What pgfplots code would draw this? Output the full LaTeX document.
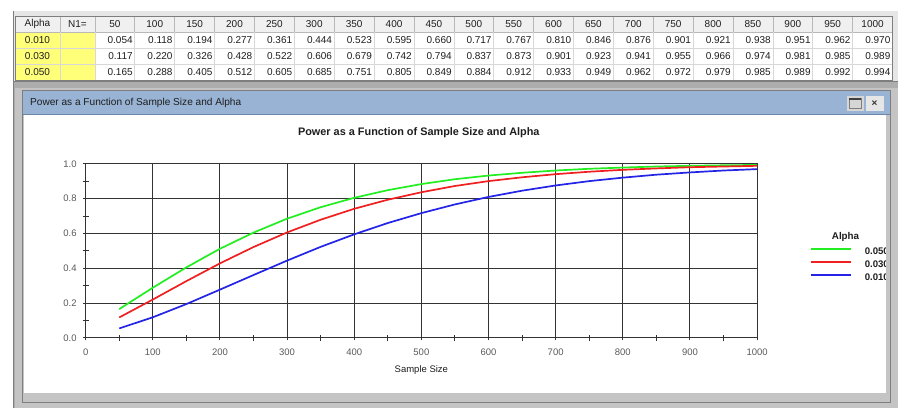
\documentclass[border=0pt]{standalone}
\usepackage{fontspec}
\setmainfont{Liberation Sans}
\usepackage{pgfplots}
\pgfplotsset{compat=1.18}
\usepackage{pgfplotstable}

\definecolor{panelgray}{HTML}{ADADAD}
\definecolor{lightpanel}{HTML}{E6E6E6}
\definecolor{framegray}{HTML}{C4C4C4}
\definecolor{darkline}{HTML}{7E7E7E}
\definecolor{headbg}{HTML}{F0F0F0}
\definecolor{cellline}{HTML}{D8D8D8}
\definecolor{headline}{HTML}{B8B8B8}
\definecolor{yellowcell}{HTML}{FFFF7A}
\definecolor{titlebar}{HTML}{98B3D3}
\definecolor{titleline}{HTML}{6A86A8}
\definecolor{txt}{HTML}{1E1E1E}
\definecolor{ticktxt}{HTML}{5A5A5A}
\definecolor{gridc}{HTML}{333333}
\definecolor{cgreen}{HTML}{22EE22}
\definecolor{cred}{HTML}{F02020}
\definecolor{cblue}{HTML}{2424E6}

\pgfplotstableread{
n a010 a030 a050
50 0.054 0.117 0.165
100 0.118 0.220 0.288
150 0.194 0.326 0.405
200 0.277 0.428 0.512
250 0.361 0.522 0.605
300 0.444 0.606 0.685
350 0.523 0.679 0.751
400 0.595 0.742 0.805
450 0.660 0.794 0.849
500 0.717 0.837 0.884
550 0.767 0.873 0.912
600 0.810 0.901 0.933
650 0.846 0.923 0.949
700 0.876 0.941 0.962
750 0.901 0.955 0.972
800 0.921 0.966 0.979
850 0.938 0.974 0.985
900 0.951 0.981 0.989
950 0.962 0.985 0.992
1000 0.970 0.989 0.994
}\datatab

\begin{document}
\begin{tikzpicture}[x=1pt,y=1pt]
% ---------- background ----------
\fill[white] (0,0) rectangle (898,408);
\fill[panelgray] (13,0) rectangle (898,397);
\fill[lightpanel] (13,326) rectangle (898,397);
\draw[darkline,line width=1pt] (13.5,0) -- (13.5,397);
% ---------- table ----------
\fill[headbg] (15,376) rectangle (893,392);
\fill[white] (95,328) rectangle (893,376);
\fill[yellowcell] (15,328) rectangle (95,376);
\foreach \yy in {360,344} {\draw[cellline,line width=0.7pt] (15,\yy) -- (893,\yy);}
\draw[headline,line width=0.8pt] (15,376) -- (893,376);
\draw[cellline,line width=0.7pt] (60,328) -- (60,376);
\draw[headline,line width=0.7pt] (60,376) -- (60,392);
\foreach \k in {0,...,19} {
  \pgfmathsetmacro{\xx}{95+\k*39.9}
  \draw[cellline,line width=0.7pt] (\xx,328) -- (\xx,376);
  \draw[headline,line width=0.7pt] (\xx,376) -- (\xx,392);
}
\draw[darkline,line width=0.8pt] (15,328) rectangle (893,392);
\begin{scope}[font=\fontsize{10}{12}\selectfont, text=txt]
\node at (37.5,384) {Alpha};
\node at (77.5,384) {N1=};
\foreach \h [count=\i] in {50,100,150,200,250,300,350,400,450,500,550,600,650,700,750,800,850,900,950,1000}
  {\node at ({95+(\i-0.5)*39.9},384) {\h};}
\node at (37.5,368) {0.010};
\node at (37.5,352) {0.030};
\node at (37.5,336) {0.050};
\foreach \v [count=\i] in {0.054,0.118,0.194,0.277,0.361,0.444,0.523,0.595,0.660,0.717,0.767,0.810,0.846,0.876,0.901,0.921,0.938,0.951,0.962,0.970}
  {\node[anchor=east,inner sep=0pt] at ({95+\i*39.9-2},368) {\v};}
\foreach \v [count=\i] in {0.117,0.220,0.326,0.428,0.522,0.606,0.679,0.742,0.794,0.837,0.873,0.901,0.923,0.941,0.955,0.966,0.974,0.981,0.985,0.989}
  {\node[anchor=east,inner sep=0pt] at ({95+\i*39.9-2},352) {\v};}
\foreach \v [count=\i] in {0.165,0.288,0.405,0.512,0.605,0.685,0.751,0.805,0.849,0.884,0.912,0.933,0.949,0.962,0.972,0.979,0.985,0.989,0.992,0.994}
  {\node[anchor=east,inner sep=0pt] at ({95+\i*39.9-2},336) {\v};}
\end{scope}
\draw[darkline,line width=1pt] (13,326.5) -- (898,326.5);
% ---------- window ----------
\fill[framegray] (15,0) rectangle (898,320);
\fill[panelgray] (15,320) rectangle (898,326);
\draw[darkline,line width=1pt] (22.5,5.5) rectangle (890.5,317.5);
\fill[titlebar] (23,294) rectangle (890,317);
\draw[titleline,line width=0.8pt] (23,294) -- (890,294);
\node[anchor=west,inner sep=0pt,text=txt,font=\fontsize{10.1}{12}\selectfont] at (30,305) {Power as a Function of Sample Size and Alpha};
% buttons
\fill[framegray!70!white] (847,297) rectangle (864,312);
\draw[darkline,line width=0.8pt] (849.5,299.5) rectangle (861.5,309.5);
\draw[black!75,line width=2pt] (849.5,309.2) -- (861.5,309.2);
\fill[lightpanel] (866,297) rectangle (884,312);
\node[font=\bfseries\fontsize{10}{12}\selectfont,text=black!80] at (875,304.5) {×};
% white content
\fill[white] (24,15) rectangle (886,293);
% chart title
\node[font=\bfseries\fontsize{10.9}{12}\selectfont,text=txt] at (419,275) {Power as a Function of Sample Size and Alpha};
\node[font=\bfseries\fontsize{9.8}{11}\selectfont,text=txt] at (846,171) {Alpha};
% ---------- axis ----------
\begin{axis}[
  at={(85.7pt,70pt)}, anchor=south west,
  scale only axis, width=671.8pt, height=174pt,
  xmin=0, xmax=1000, ymin=0, ymax=1,
  xtick={0,100,...,1000}, ytick={0,0.2,0.4,0.6,0.8,1.0},
  minor x tick num=1, minor y tick num=1,
  tick align=center, tick pos=left,
  major tick length=5pt, minor tick length=6pt,
  axis line style={gridc,line width=1pt},
  every tick/.style={gridc,line width=1pt},
  grid=major, major grid style={gridc,line width=1pt},
  /pgf/number format/assume math mode=true,
  ticklabel style={font=\fontsize{9.5}{11}\selectfont,text=ticktxt},
  yticklabel style={/pgf/number format/.cd,fixed,fixed zerofill,precision=1,/tikz/.cd,xshift=-3pt},
  xticklabel style={/pgf/number format/.cd,fixed,1000 sep={},/tikz/.cd,yshift=-5pt},
  xlabel={Sample Size},
  xlabel style={font=\fontsize{9.5}{11}\selectfont,text=txt,at={(axis description cs:0.5,-0.184)},anchor=center},
  legend style={draw=none,fill=none,inner sep=0pt,at={(1.0782,0.5201)},anchor=north west,
    font=\bfseries\fontsize{9.6}{11}\selectfont,text=txt,
    nodes={inner sep=0pt,text height=7pt,text depth=2pt},
    row sep=4pt,column sep=13pt},
  legend cell align=left,
  legend image code/.code={\draw[#1,line width=2pt] (0pt,3.5pt) -- (40pt,3.5pt);},
  clip=false,
]
\addplot[cgreen,line width=1.7pt] table[x=n,y=a050] {\datatab};
\addlegendentry{0.050}
\addplot[cred,line width=1.7pt] table[x=n,y=a030] {\datatab};
\addlegendentry{0.030}
\addplot[cblue,line width=1.7pt] table[x=n,y=a010] {\datatab};
\addlegendentry{0.010}
\end{axis}
% right frame overlay (clips legend text)
\fill[framegray] (886,6) rectangle (890,293);
\fill[framegray] (891,0) rectangle (898,320);
\draw[darkline,line width=1pt] (890.5,5.5) -- (890.5,317.5);
\end{tikzpicture}
\end{document}
